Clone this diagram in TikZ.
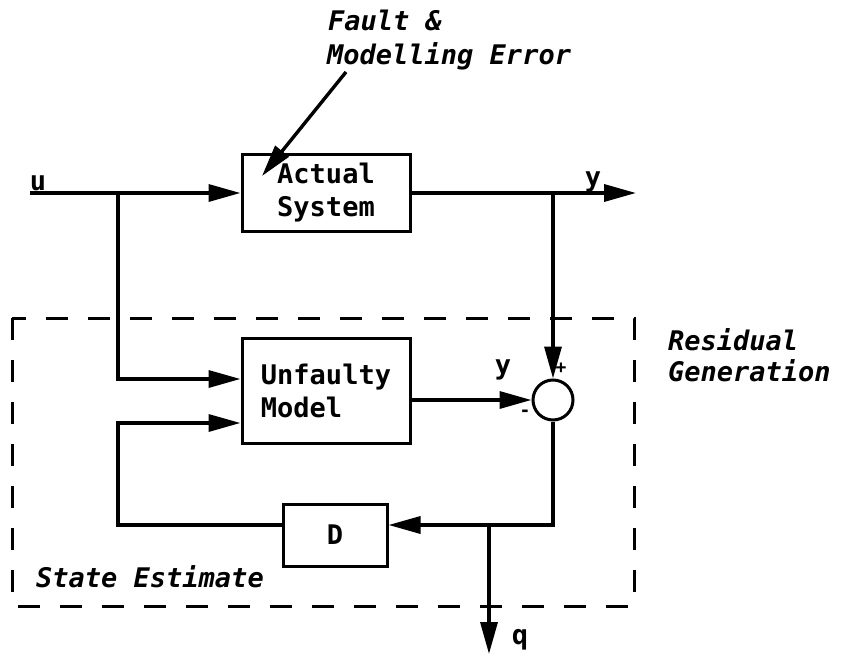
\documentclass[tikz,border=0pt]{standalone}
\usepackage{fontspec}
\setmainfont{DejaVu Sans Mono}
\usetikzlibrary{arrows.meta,calc}

\tikzset{
  blk/.style={draw, line width=3pt, align=left, inner sep=0pt},
  arr/.style={line width=3.4pt, -{Triangle[length=32pt,width=17pt]}},
  dashbox/.style={line width=3pt, dash pattern=on 22pt off 20pt},
  lbl/.style={inner sep=0pt, font=\fontsize{27}{33}\selectfont\bfseries\itshape},
}

\begin{document}
\begin{tikzpicture}[x=1pt, y=-1pt, font=\fontsize{27}{33}\selectfont\bfseries]
\useasboundingbox (0,0) rectangle (841,656);

% blocks
\node[blk, minimum width=168pt, minimum height=77pt] (actual) at (326,193) {Actual\\System};
\node[blk, minimum width=168pt, minimum height=105pt] (model) at (326,390.5) {Unfaulty\\Model};
\node[blk, minimum width=104pt, minimum height=62pt] (dblk) at (335,535) {D};
\node[draw, circle, line width=3pt, minimum size=40pt, inner sep=0pt] (sum) at (553,400) {};

% residual generation frame
\draw[dashbox] (12,318) rectangle (634,606);

% signal points
\coordinate (uin) at (30,193);
\coordinate (ubr) at (118,193);
\coordinate (yout) at (636,193);
\coordinate (ytap) at (553,193);
\coordinate (fbk) at (118,525);
\coordinate (qbr) at (489,525);
\coordinate (qout) at (489,654);
\coordinate (fstart) at (346,72);

% connections
\draw[arr] (uin) -- (actual.west);
\draw[arr] (actual.east) -- (yout);
\draw[arr] (ytap) -- (sum.north);
\draw[arr] (ubr) |- ($(model.west)+(0,-11.5)$);
\draw[arr] (model.east |- sum) -- (sum.west);
\draw[arr] (sum.south) |- ($(dblk.east)+(0,-10)$);
\draw[arr] ($(dblk.west)+(0,-10)$) -- (fbk) |- ($(model.west)+(0,32.5)$);
\draw[arr] (qbr) -- (qout);
\draw[arr] (fstart) -- (262,176);

% labels
\node[inner sep=0pt] (ulbl) at (38,183) {u};
\node[inner sep=0pt] (ylbl) at (593,182) {y};
\node[inner sep=0pt] (ymlbl) at (503,370) {y};
\node[inner sep=0pt, font=\fontsize{18}{20}\selectfont\bfseries] (plus) at (561,368) {+};
\node[inner sep=0pt, font=\fontsize{18}{20}\selectfont\bfseries] (minus) at (525,413) {-};
\node[inner sep=0pt] (qlbl) at (520,640) {q};
\node[lbl, anchor=west] (fault) at (328,20) {Fault \&};
\node[lbl, anchor=west] (moderr) at (327,56) {Modelling Error};
\node[lbl, anchor=west] (resid) at (668,340) {Residual};
\node[lbl, anchor=west] (gener) at (668,371) {Generation};
\node[lbl, anchor=west] (state) at (36,577) {State Estimate};
\end{tikzpicture}
\end{document}
